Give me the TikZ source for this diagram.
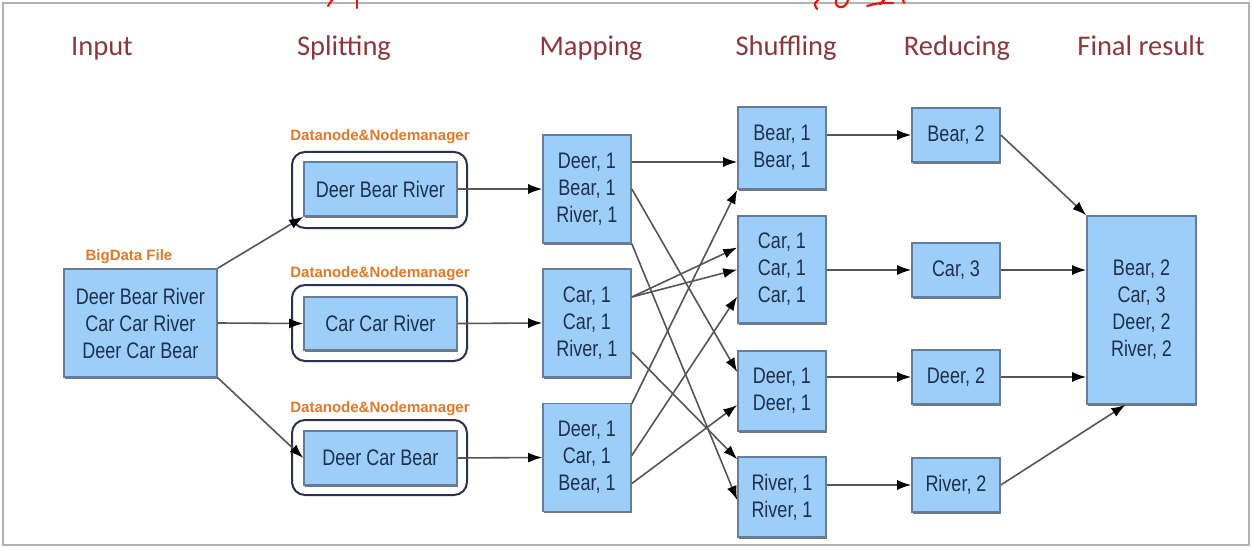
\documentclass[tikz,border=0pt]{standalone}
\usepackage{fontspec}
\usetikzlibrary{arrows.meta,shadows}
\newfontfamily\boxfont[FakeStretch=0.8]{Liberation Sans}
\newfontfamily\headfont{Carlito}
\newfontfamily\labfont{Liberation Sans}
\definecolor{boxfill}{RGB}{157,206,250}
\definecolor{boxline}{RGB}{100,125,155}
\definecolor{boxtext}{RGB}{30,48,78}
\definecolor{headcol}{RGB}{140,55,60}
\definecolor{labcol}{RGB}{222,122,42}
\definecolor{outline}{RGB}{40,50,80}
\definecolor{arrcol}{RGB}{85,85,85}
\definecolor{redpen}{RGB}{230,20,10}
\tikzset{
  bx/.style={draw=boxline, line width=1.6pt, fill=boxfill, text=boxtext, align=center,
    inner sep=0pt, font=\boxfont\fontsize{22.5}{27}\selectfont,
    drop shadow={shadow xshift=0.6pt, shadow yshift=-1.6pt, fill=black!60, opacity=0.9}},
  outerbox/.style={draw=outline, line width=2pt, rounded corners=13pt, inner sep=0pt,
    minimum width=175pt},
  head/.style={font=\headfont\fontsize{28.5}{30}\selectfont, text=headcol, anchor=base},
  lab/.style={font=\labfont\bfseries\fontsize{15}{16}\selectfont, text=labcol},
  arr/.style={draw=arrcol, line width=1.6pt, -{Latex[length=14pt,width=10pt,color=black]}},
  redstroke/.style={draw=redpen, line width=2.2pt, line cap=round}
}
\begin{document}
\begin{tikzpicture}[x=1pt,y=-1pt]
\useasboundingbox (0,0) rectangle (1252,548);
\fill[white] (0,0) rectangle (1252,548);
\draw[gray!60, line width=2pt] (3,3) rectangle (1249,545);
% red annotation strokes
\draw[redstroke] (332,0) -- (328,6);
\draw[redstroke] (357,0) -- (357,8);
\draw[redstroke] (818,0) .. controls (814,4) .. (817,9);
\draw[redstroke] (836,0) .. controls (834,9) and (846,10) .. (848,0);
\draw[redstroke] (867,6) .. controls (878,3) .. (893,3);
\draw[redstroke] (880,4) -- (884,0);
\draw[redstroke] (903,0) -- (904,3);

% headers
\node[head] (hIn)  at (102,56)  {Input};
\node[head] (hSp)  at (344,56)  {Splitting};
\node[head] (hMa)  at (591,56)  {Mapping};
\node[head] (hSh)  at (786,56)  {Shuffling};
\node[head] (hRe)  at (957,56)  {Reducing};
\node[head] (hFi)  at (1141,56) {Final result};

% input
\node[lab] (lBig) at (129,257) {BigData File};
\node[bx, minimum width=153pt, minimum height=108pt] (In) at (140.5,323)
  {Deer Bear River\\Car Car River\\Deer Car Bear};

% splitting
\node[lab] (lD1) at (380,137) {Datanode\&Nodemanager};
\node[lab] (lD2) at (380,274) {Datanode\&Nodemanager};
\node[lab] (lD3) at (380,409) {Datanode\&Nodemanager};
\node[outerbox, minimum height=76pt] (O1) at (379.5,190) {};
\node[outerbox, minimum height=76pt] (O2) at (379.5,323) {};
\node[outerbox, minimum height=75pt] (O3) at (379.5,457.5) {};
\node[bx, minimum width=153pt, minimum height=54pt] (P1) at (380.5,189) {Deer Bear River};
\node[bx, minimum width=153pt, minimum height=53pt] (P2) at (380.5,323.5) {Car Car River};
\node[bx, minimum width=153pt, minimum height=54pt] (P3) at (380.5,458) {Deer Car Bear};

% mapping
\node[bx, minimum width=88pt, minimum height=108pt] (M1) at (587,189) {Deer, 1\\Bear, 1\\River, 1};
\node[bx, minimum width=88pt, minimum height=108pt] (M2) at (587,323) {Car, 1\\Car, 1\\River, 1};
\node[bx, minimum width=88pt, minimum height=108pt] (M3) at (587,457.5) {Deer, 1\\Car, 1\\Bear, 1};

% shuffling
\node[bx, minimum width=88pt, minimum height=82pt] (S1) at (782,148) {Bear, 1\\Bear, 1};
\node[bx, minimum width=88pt, minimum height=107pt] (S2) at (782,269.5) {Car, 1\\Car, 1\\Car, 1};
\node[bx, minimum width=88pt, minimum height=80pt] (S3) at (782,391) {Deer, 1\\Deer, 1};
\node[bx, minimum width=88pt, minimum height=80pt] (S4) at (782,497) {River, 1\\River, 1};

% reducing
\node[bx, minimum width=88pt, minimum height=54pt] (R1) at (956,135) {Bear, 2};
\node[bx, minimum width=88pt, minimum height=54pt] (R2) at (956,270) {Car, 3};
\node[bx, minimum width=88pt, minimum height=54pt] (R3) at (956,377) {Deer, 2};
\node[bx, minimum width=88pt, minimum height=54pt] (R4) at (956,485) {River, 2};

% final
\node[bx, minimum width=109pt, minimum height=188pt] (F) at (1141.5,310) {Bear, 2\\Car, 3\\Deer, 2\\River, 2};

% input -> splitting
\draw[arr] (In.north east) -- (P1.south west);
\draw[arr] (In.east) -- (P2.west);
\draw[arr] (In.south east) -- (P3.west);

% splitting -> mapping
\draw[arr] (P1.east) -- (M1.west);
\draw[arr] (P2.east) -- (M2.west);
\draw[arr] (P3.east) -- (M3.west);

% mapping -> shuffling
\draw[arr] ([yshift=27pt]M1.east) -- ([yshift=-14pt]S1.west);
\draw[arr] (M1.east) -- ([yshift=19pt]S3.west);
\draw[arr] (M1.south east) -- ([yshift=-3pt]S4.west);
\draw[arr] ([yshift=26pt]M2.east) -- ([yshift=22pt]S2.west);
\draw[arr] ([yshift=26pt]M2.east) -- (S2.west);
\draw[arr] ([yshift=-29pt]M2.east) -- ([yshift=-3pt]S4.north west);
\draw[arr] ([yshift=-1pt]M3.north east) -- (S1.south west);
\draw[arr] ([yshift=2pt]M3.east) -- ([yshift=-27pt]S2.west);
\draw[arr] ([yshift=-26pt]M3.east) -- ([yshift=-14pt]S3.west);

% shuffling -> reducing
\draw[arr] (S1.east |- R1.west) -- (R1.west);
\draw[arr] (S2.east |- R2.west) -- (R2.west);
\draw[arr] (S3.east |- R3.west) -- (R3.west);
\draw[arr] (S4.east |- R4.west) -- (R4.west);

% reducing -> final
\draw[arr] (R1.east) -- (F.north west);
\draw[arr] (R2.east) -- (F.west |- R2.east);
\draw[arr] (R3.east) -- (F.west |- R3.east);
\draw[arr] (R4.east) -- ([xshift=-16pt]F.south);
\end{tikzpicture}
\end{document}
